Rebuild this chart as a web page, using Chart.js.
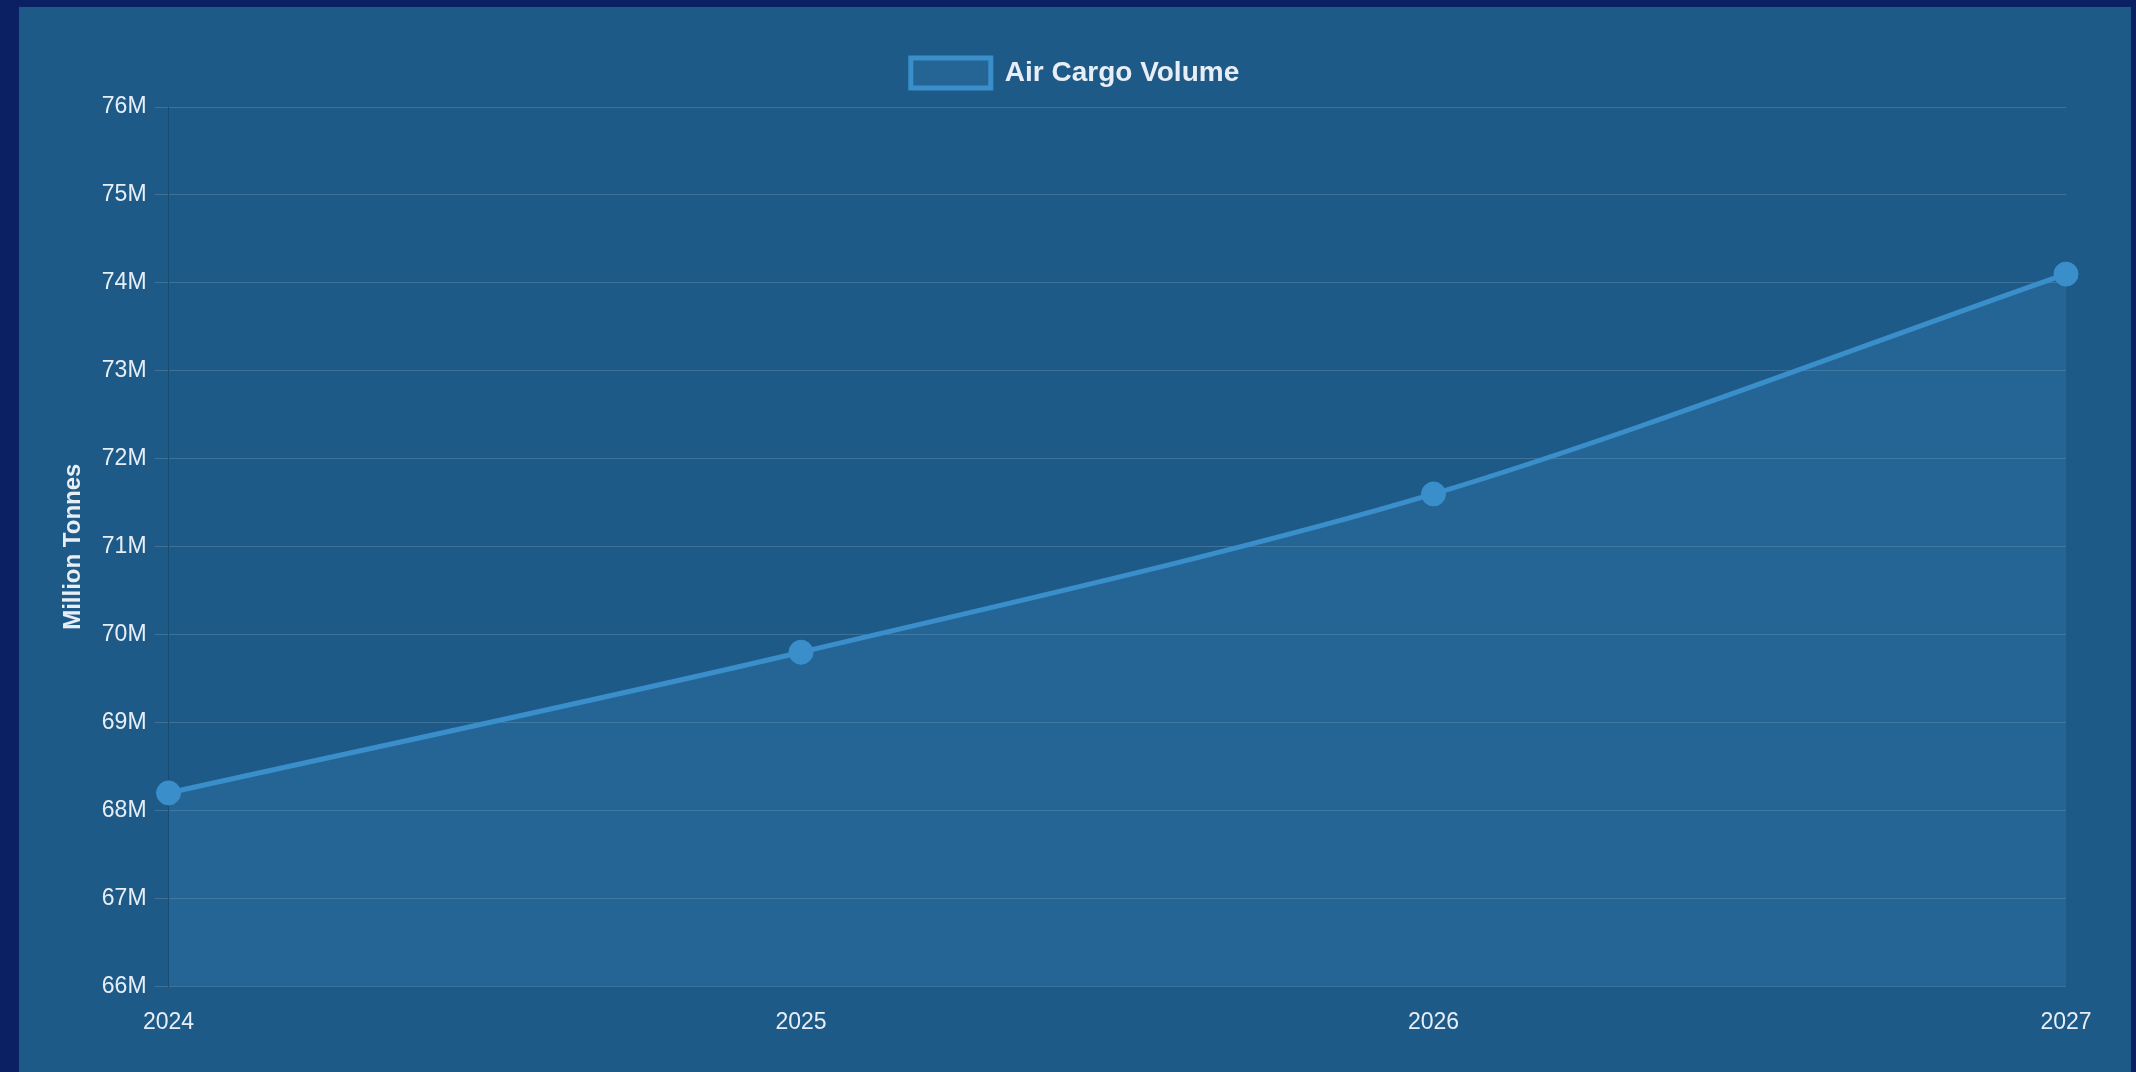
<!DOCTYPE html>
<html>
<head>
<meta charset="utf-8">
<script src="https://cdn.jsdelivr.net/npm/chart.js@4"></script>
<style>
  html, body { margin: 0; padding: 0; }
  body { background: #0b1f63; width: 2136px; height: 1072px; overflow: hidden; position: relative; }
  #panel {
    position: absolute; left: 19px; top: 7px; width: 2112px; height: 1065px;
    background: #1e5a88;
  }
</style>
</head>
<body>
<div id="panel"><canvas id="cargoChart"></canvas></div>
<script>
// forecast years and air cargo volume (million tonnes)
var years = ["2024", "2025", "2026", "2027"];
var cargoVolume = [68.2, 69.8, 71.6, 74.1];
var seriesLabel = "Air Cargo Volume";
var axisTitle = "Million Tonnes";

var lineColor = "#3a8fcb";
var fillColor = "rgba(58, 143, 203, 0.2)";
var textColor = "#e8eef5";
var fontFamily = "Liberation Sans, Arial, sans-serif";

var canvas = document.getElementById("cargoChart");

var cargoChart = new Chart(canvas, {
    type: "line",
    data: {
        labels: years,
        datasets: [{
            label: seriesLabel,
            data: cargoVolume,
            borderColor: lineColor,
            backgroundColor: fillColor,
            borderWidth: 5,
            fill: true,
            tension: 0.3,
            pointRadius: 12,
            pointBackgroundColor: lineColor,
            pointBorderColor: lineColor,
            pointBorderWidth: 1
        }]
    },
    options: {
        responsive: true,
        maintainAspectRatio: false,
        animation: false,
        layout: {
            padding: {left: 36, right: 36, top: 26, bottom: 28}
        },
        scales: {
            x: {
                grid: {display: false, tickLength: 14},
                border: {display: false},
                ticks: {
                    color: textColor,
                    padding: 8,
                    font: {family: fontFamily, size: 23}
                },
                // leave extra room right of the last point
                afterFit: function (scale) { scale.paddingRight = 65; }
            },
            y: {
                min: 66,
                max: 76,
                grid: {color: "rgba(255, 255, 255, 0.15)", tickLength: 14},
                border: {display: true, color: "rgba(0, 0, 0, 0.15)"},
                ticks: {
                    stepSize: 1,
                    color: textColor,
                    padding: 8,
                    font: {family: fontFamily, size: 23},
                    callback: function (value) { return value + "M"; }
                },
                title: {
                    display: true,
                    text: axisTitle,
                    color: textColor,
                    padding: {top: 4, bottom: 6},
                    font: {family: fontFamily, size: 24, weight: "bold"}
                }
            }
        },
        plugins: {
            legend: {
                labels: {
                    color: textColor,
                    boxWidth: 80,
                    boxHeight: 30,
                    padding: 25,
                    font: {family: fontFamily, size: 28, weight: "bold"}
                }
            },
            // empty subtitle under the legend, used as a spacer
            subtitle: {
                display: true,
                text: "",
                position: "top",
                weight: 500,
                padding: {top: 0, bottom: 8},
                font: {size: 1, lineHeight: 1}
            },
            tooltip: {enabled: false}
        }
    }
});
</script>
</body>
</html>
